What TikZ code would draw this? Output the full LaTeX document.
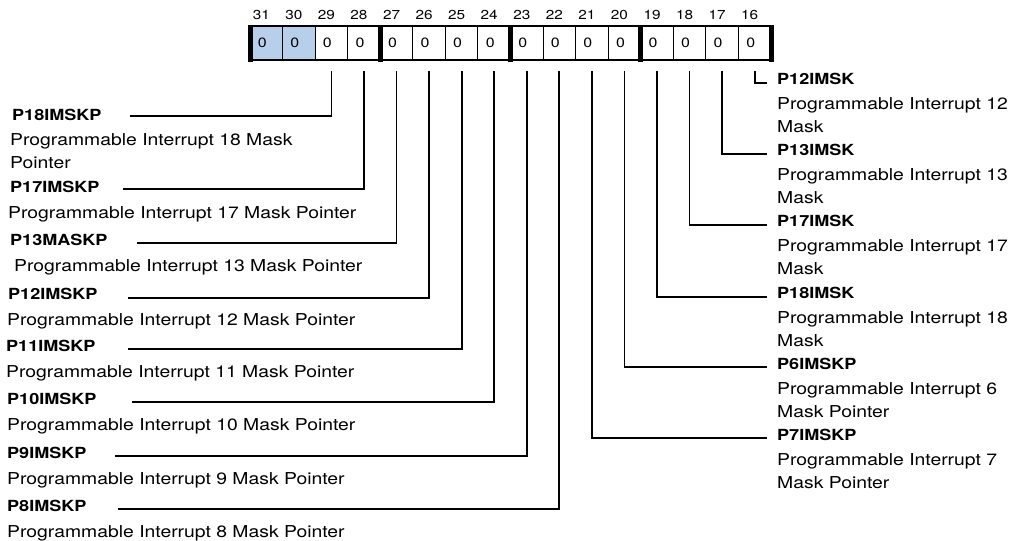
\documentclass[tikz,border=0pt]{standalone}
\usepackage{fontspec}
\setmainfont[FakeStretch=1.18]{TeX Gyre Heros}
\definecolor{bitblue}{RGB}{184,207,236}
\begin{document}
\begin{tikzpicture}[x=1pt,y=-1pt,
  cell/.style={draw, line width=1.1pt, minimum width=32.56pt, minimum height=34pt, inner sep=0pt, outer sep=0pt},
  bitval/.style={inner sep=0pt, anchor=base, font=\fontsize{13.5}{15}\selectfont},
  bitnum/.style={inner sep=0pt, anchor=base, font=\fontsize{13}{14}\selectfont},
  fname/.style={anchor=base west, inner sep=0pt, font=\fontsize{15.3}{23}\selectfont\bfseries},
  fdesc/.style={anchor=base west, inner sep=0pt, font=\fontsize{16.4}{23}\selectfont},
  conn/.style={line width=1.8pt},
  bar/.style={line width=5pt},
  edge/.style={line width=1.8pt}]
\useasboundingbox (0,0) rectangle (1013,541);

% register cells
\foreach \b [count=\i from 0] in {31,30,29,28,27,26,25,24,23,22,21,20,19,18,17,16} {
  \pgfmathsetmacro\cx{250+32.5625*(\i+0.5)}
  \def\fillc{white}
  \ifnum\b>29 \def\fillc{bitblue}\fi
  \node[cell, fill=\fillc] (c\b) at (\cx,43) {};
  \node[bitval] (v\b) at (\cx-4,47.5) {0};
  \node[bitnum] (n\b) at (\cx-5,19.8) {\b};
}
\draw[edge] (c31.north west) -- (c16.north east);
\draw[edge] (c31.south west) -- (c16.south east);
\draw[bar] ([yshift=1pt]c31.north west) -- ([yshift=-2pt]c31.south west);
\draw[bar] ([yshift=1pt]c28.north east) -- ([yshift=-2pt]c28.south east);
\draw[bar] ([yshift=1pt]c24.north east) -- ([yshift=-2pt]c24.south east);
\draw[bar] ([yshift=1pt]c20.north east) -- ([yshift=-2pt]c20.south east);
\draw[bar] ([yshift=1pt]c16.north east) -- ([yshift=-2pt]c16.south east);

% left fields
\node[fname] (l18) at (12,120.5) {P18IMSKP};
\node[fdesc] (d18) at (10,145.8) {\begin{tabular}[t]{@{}l@{}}Programmable Interrupt 18 Mask\\Pointer\end{tabular}};
\coordinate (e18) at (130,116);
\draw[conn] ([yshift=-11pt]c29.south) |- (e18);

\node[fname] (l17) at (10,192.5) {P17IMSKP};
\node[fdesc] (d17) at (8,218.8) {Programmable Interrupt 17 Mask Pointer};
\coordinate (e17) at (123,189);
\draw[conn] ([yshift=-11pt]c28.south) |- (e17);

\node[fname] (l13) at (10,245.5) {P13MASKP};
\node[fdesc] (d13) at (14,271.8) {Programmable Interrupt 13 Mask Pointer};
\coordinate (e13) at (137,243);
\draw[conn] ([yshift=-11pt]c27.south) |- (e13);

\node[fname] (l12) at (8,299.5) {P12IMSKP};
\node[fdesc] (d12) at (7,325.8) {Programmable Interrupt 12 Mask Pointer};
\coordinate (e12) at (128,298);
\draw[conn] ([yshift=-11pt]c26.south) |- (e12);

\node[fname] (l11) at (6,351.5) {P11IMSKP};
\node[fdesc] (d11) at (6,377.8) {Programmable Interrupt 11 Mask Pointer};
\coordinate (e11) at (128,349);
\draw[conn] ([yshift=-11pt]c25.south) |- (e11);

\node[fname] (l10) at (7,404.5) {P10IMSKP};
\node[fdesc] (d10) at (7,430.8) {Programmable Interrupt 10 Mask Pointer};
\coordinate (e10) at (132,402);
\draw[conn] ([yshift=-11pt]c24.south) |- (e10);

\node[fname] (l9) at (7,458.5) {P9IMSKP};
\node[fdesc] (d9) at (7,484.8) {Programmable Interrupt 9 Mask Pointer};
\coordinate (e9) at (115,456);
\draw[conn] ([yshift=-11pt]c23.south) |- (e9);

\node[fname] (l8) at (7,511.5) {P8IMSKP};
\node[fdesc] (d8) at (7,537.3) {Programmable Interrupt 8 Mask Pointer};
\coordinate (e8) at (118,509);
\draw[conn] ([yshift=-11pt]c22.south) |- (e8);

% right fields
\node[fname] (r12) at (777,84.5) {P12IMSK};
\node[fdesc] (rd12) at (777,109.8) {\begin{tabular}[t]{@{}l@{}}Programmable Interrupt 12\\Mask\end{tabular}};
\coordinate (f12) at (767,83);
\draw[conn] ([yshift=-11pt]c16.south) |- (f12);

\node[fname] (r13) at (777,155.5) {P13IMSK};
\node[fdesc] (rd13) at (777,180.8) {\begin{tabular}[t]{@{}l@{}}Programmable Interrupt 13\\Mask\end{tabular}};
\coordinate (f13) at (767,154);
\draw[conn] ([yshift=-11pt]c17.south) |- (f13);

\node[fname] (r17) at (777,226.5) {P17IMSK};
\node[fdesc] (rd17) at (777,251.8) {\begin{tabular}[t]{@{}l@{}}Programmable Interrupt 17\\Mask\end{tabular}};
\coordinate (f17) at (767,225);
\draw[conn] ([yshift=-11pt]c18.south) |- (f17);

\node[fname] (r18) at (777,298.5) {P18IMSK};
\node[fdesc] (rd18) at (777,323.8) {\begin{tabular}[t]{@{}l@{}}Programmable Interrupt 18\\Mask\end{tabular}};
\coordinate (f18) at (767,297);
\draw[conn] ([yshift=-11pt]c19.south) |- (f18);

\node[fname] (r6) at (777,369.5) {P6IMSKP};
\node[fdesc] (rd6) at (777,394.8) {\begin{tabular}[t]{@{}l@{}}Programmable Interrupt 6\\Mask Pointer\end{tabular}};
\coordinate (f6) at (767,367);
\draw[conn] ([yshift=-11pt]c20.south) |- (f6);

\node[fname] (r7) at (777,440.5) {P7IMSKP};
\node[fdesc] (rd7) at (777,465.8) {\begin{tabular}[t]{@{}l@{}}Programmable Interrupt 7\\Mask Pointer\end{tabular}};
\coordinate (f7) at (767,438);
\draw[conn] ([yshift=-11pt]c21.south) |- (f7);
\end{tikzpicture}
\end{document}
